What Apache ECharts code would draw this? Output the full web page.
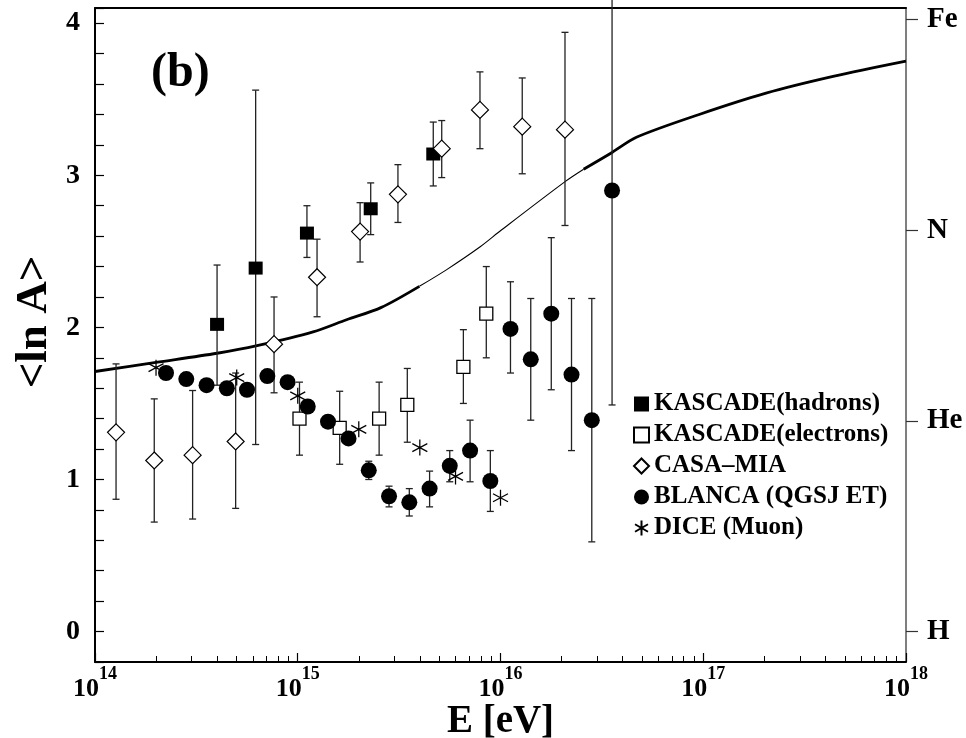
<!DOCTYPE html>
<html><head><meta charset="utf-8">
<script src="https://cdn.jsdelivr.net/npm/echarts@6/dist/echarts.min.js"></script>
<style>html,body{margin:0;padding:0;background:#fff}#c{width:966px;height:738px}</style>
</head><body><div id="c"></div>
<script>
// ---------- data ----------
const hadE  = [4.0e14, 6.2e14, 1.11e15, 2.29e15, 4.66e15];
const hadV  = [2.02, 2.39, 2.62, 2.78, 3.14];
const hadLo = [1.62, 1.23, 2.46, 2.61, 2.93];
const hadHi = [2.41, 3.56, 2.80, 2.95, 3.35];

const elE  = [1.02e15, 1.61e15, 2.52e15, 3.47e15, 6.56e15, 8.51e15];
const elV  = [1.40, 1.34, 1.40, 1.49, 1.74, 2.09];
const elLo = [1.16, 1.10, 1.16, 1.245, 1.50, 1.80];
const elHi = [1.64, 1.58, 1.64, 1.73, 1.985, 2.40];

const casaE  = [1.27e14, 1.96e14, 3.03e14, 4.94e14, 7.64e14, 1.245e15, 2.03e15, 3.12e15, 5.13e15, 7.92e15, 1.28e16, 2.08e16];
const casaV  = [1.31, 1.125, 1.16, 1.25, 1.89, 2.33, 2.63, 2.875, 3.175, 3.43, 3.32, 3.30];
const casaLo = [0.87, 0.72, 0.74, 0.81, 1.57, 2.07, 2.43, 2.69, 2.985, 3.175, 3.01, 2.67];
const casaHi = [1.76, 1.53, 1.585, 1.70, 2.20, 2.58, 2.82, 3.07, 3.36, 3.68, 3.64, 3.94];

const blancaE  = [2.24e14, 2.82e14, 3.55e14, 4.47e14, 5.62e14, 7.08e14, 8.91e14, 1.12e15, 1.41e15, 1.78e15, 2.24e15, 2.82e15,
                  3.55e15, 4.47e15, 5.62e15, 7.08e15, 8.91e15, 1.12e16, 1.41e16, 1.78e16, 2.24e16, 2.82e16, 3.55e16];
const blancaV  = [1.70, 1.66, 1.62, 1.60, 1.59, 1.68, 1.64, 1.48, 1.38, 1.27, 1.06, 0.89,
                  0.85, 0.94, 1.09, 1.19, 0.99, 1.99, 1.79, 2.09, 1.69, 1.39, 2.90];
const blancaLo = [null, null, null, null, null, null, null, null, null, null, 1.00, 0.82,
                  0.76, 0.82, 0.985, 0.985, 0.79, 1.70, 1.39, 1.59, 1.19, 0.59, 1.49];
const blancaHi = [null, null, null, null, null, null, null, null, null, null, 1.12, 0.956,
                  0.94, 1.055, 1.19, 1.39, 1.19, 2.30, 2.19, 2.59, 2.19, 2.19, 4.60];

const diceE = [2.0e14, 5.0e14, 1.0e15, 2.0e15, 4.0e15, 6.0e15, 1.0e16];
const diceV = [1.735, 1.67, 1.55, 1.33, 1.21, 1.02, 0.88];

const curveE = [1.0e14, 2.0e14, 4.0e14, 6.3e14, 1.19e15, 1.74e15, 2.57e15, 3.98e15, 5.43e15, 7.94e15,
                1.01e16, 2.09e16, 2.57e16, 3.55e16, 4.68e16, 9.55e16, 2.04e17, 4.37e17, 1.0e18];
const curveV = [1.71, 1.77, 1.83, 1.88, 1.97, 2.05, 2.13, 2.27, 2.38, 2.53,
                2.64, 2.96, 3.04, 3.15, 3.25, 3.40, 3.54, 3.65, 3.75];

const seriesNames = ['KASCADE(hadrons)', 'KASCADE(electrons)', 'CASA\u2013MIA', 'BLANCA (QGSJ ET)', 'DICE (Muon)'];
const elemNames = ['H', 'He', 'N', 'Fe'];
const elemLnA   = [0, 1.386, 2.639, 4.025];
const panelLabel = '(b)';

// ---------- helpers ----------
const FONT = '"Liberation Serif", "Times New Roman", serif';
const pts = (E, V) => E.map((e, i) => [e, V[i]]);
function errData(E, lo, hi) {
  const d = [];
  for (let i = 0; i < E.length; i++) if (lo[i] != null) d.push([E[i], lo[i], hi[i]]);
  return d;
}
function renderErr(params, api) {
  const x = api.value(0), lo = api.value(1), hi = api.value(2);
  const a = api.coord([x, lo]), b = api.coord([x, hi]);
  const st = {stroke: '#222', lineWidth: 1.3};
  const cw = 3.5;
  return {type: 'group', children: [
    {type: 'line', shape: {x1: a[0], y1: a[1], x2: b[0], y2: b[1]}, style: st},
    {type: 'line', shape: {x1: a[0] - cw, y1: a[1], x2: a[0] + cw, y2: a[1]}, style: st},
    {type: 'line', shape: {x1: b[0] - cw, y1: b[1], x2: b[0] + cw, y2: b[1]}, style: st}
  ]};
}
function errSeries(data) {
  return {type: 'custom', data: data, encode: {x: 0, y: [1, 2]}, renderItem: renderErr,
          z: 2, silent: true, clip: false};
}
const minorTicks = [];
for (let d = 14; d < 18; d++) for (let m = 2; m <= 9; m++) minorTicks.push(m * Math.pow(10, d));

const STAR = 'path://M10,0L10,20M1.34,5L18.66,15M1.34,15L18.66,5';

const curvePts = pts(curveE, curveV);
const thick1 = curvePts.slice(0, 8);
const thin = curvePts.slice(7, 13);
const thick2 = curvePts.slice(12);
function lineSeries(data, w) {
  return {type: 'line', data: data, symbol: 'none', smooth: 0.3, z: 1, silent: true,
          lineStyle: {color: '#000', width: w}};
}
function scatter(name, data, symbol, size, style, z) {
  return {name: name, type: 'scatter', data: data, symbol: symbol, symbolSize: size, z: z || 4,
          itemStyle: Object.assign({opacity: 1}, style), emphasis: {disabled: true}};
}

const chart = echarts.init(document.getElementById('c'));
chart.setOption({
  animation: false,
  backgroundColor: '#fff',
  grid: {left: 95, right: 60, top: 8, bottom: 76, containLabel: false, outerBoundsMode: 'none'},
  xAxis: [
    {type: 'log', logBase: 10, min: 1e14, max: 1e18, position: 'bottom',
     axisLine: {onZero: false, lineStyle: {color: '#000', width: 2}},
     axisTick: {inside: true, length: 9, lineStyle: {color: '#000', width: 1.2}},
     splitLine: {show: false},
     axisLabel: {
       margin: 3,
       formatter: v => '{b|10}{s|' + Math.round(Math.log10(v)) + '}',
       rich: {
         b: {fontFamily: FONT, fontWeight: 'bold', fontSize: 26, lineHeight: 48, color: '#000'},
         s: {fontFamily: FONT, fontWeight: 'bold', fontSize: 18, lineHeight: 20, verticalAlign: 'top', color: '#000'}
       }
     },
     name: 'E [eV]', nameLocation: 'middle', nameGap: 40, nameMoveOverlap: false,
     nameTextStyle: {fontFamily: FONT, fontWeight: 'bold', fontSize: 39, lineHeight: 40, color: '#000'}},
    {type: 'log', logBase: 10, min: 1e14, max: 1e18, position: 'bottom',
     axisLine: {show: false, onZero: false},
     axisTick: {inside: true, length: 6, customValues: minorTicks, lineStyle: {color: '#000', width: 1}},
     axisLabel: {show: false}, splitLine: {show: false}},
    {type: 'log', logBase: 10, min: 1e14, max: 1e18, position: 'top',
     axisLine: {onZero: false, lineStyle: {color: '#000', width: 2}},
     axisTick: {show: false}, axisLabel: {show: false}, splitLine: {show: false}}
  ],
  yAxis: [
    {type: 'value', min: -0.2, max: 4.1, interval: 0.2, position: 'left',
     axisLine: {show: true, onZero: false, lineStyle: {color: '#000', width: 2}},
     axisTick: {inside: true, length: 9, lineStyle: {color: '#000', width: 1.2}},
     splitLine: {show: false},
     axisLabel: {margin: 15, fontFamily: FONT, fontWeight: 'bold', fontSize: 28, color: '#000',
       formatter: v => Math.abs(v - Math.round(v)) < 1e-6 && v >= 0 && v <= 4 ? String(Math.round(v)) : ''},
     name: '<ln A>', nameLocation: 'middle', nameRotate: 90, nameGap: 38, nameMoveOverlap: false,
     nameTextStyle: {fontFamily: FONT, fontWeight: 'bold', fontSize: 45, color: '#000', padding: [0, 0, 0, 26]}},
    {type: 'value', min: -0.2, max: 4.1, position: 'right',
     axisLine: {show: true, onZero: false, lineStyle: {color: '#555', width: 1.5}},
     axisTick: {inside: false, length: 12, customValues: elemLnA, lineStyle: {color: '#333', width: 1.2}},
     splitLine: {show: false},
     axisLabel: {customValues: elemLnA, margin: 21, fontFamily: FONT, fontWeight: 'bold', fontSize: 29, color: '#000',
       formatter: v => { let k = 0; elemLnA.forEach((e, i) => { if (Math.abs(e - v) < Math.abs(elemLnA[k] - v)) k = i; }); return elemNames[k]; }}}
  ],
  legend: {
    data: seriesNames, orient: 'vertical', left: 633, top: 391, padding: 0,
    itemWidth: 15, itemHeight: 15, itemGap: 5, selectedMode: false,
    textStyle: {fontFamily: FONT, fontWeight: 'bold', fontSize: 25, lineHeight: 26, color: '#000'}
  },
  graphic: [
    {type: 'text', left: 151, top: 50, style: {text: panelLabel, font: 'bold 48px "Liberation Serif"', fill: '#000'}}
  ],
  series: [
    lineSeries(thick1, 2.8), lineSeries(thin, 1.1), lineSeries(thick2, 2.8),
    errSeries(errData(hadE, hadLo, hadHi)),
    errSeries(errData(elE, elLo, elHi)),
    errSeries(errData(casaE, casaLo, casaHi)),
    errSeries(errData(blancaE, blancaLo, blancaHi)),
    scatter(seriesNames[0], pts(hadE, hadV), 'rect', [14, 13], {color: '#000'}),
    scatter(seriesNames[1], pts(elE, elV), 'rect', 13, {color: '#fff', borderColor: '#000', borderWidth: 1.3}),
    scatter(seriesNames[2], pts(casaE, casaV), 'diamond', 17, {color: '#fff', borderColor: '#000', borderWidth: 1.2}),
    scatter(seriesNames[3], pts(blancaE, blancaV), 'circle', 16, {color: '#000'}),
    scatter(seriesNames[4], pts(diceE, diceV), STAR, [15, 16], {color: '#000', borderColor: '#000', borderWidth: 1.3}, 5)
  ]
});
</script></body></html>
